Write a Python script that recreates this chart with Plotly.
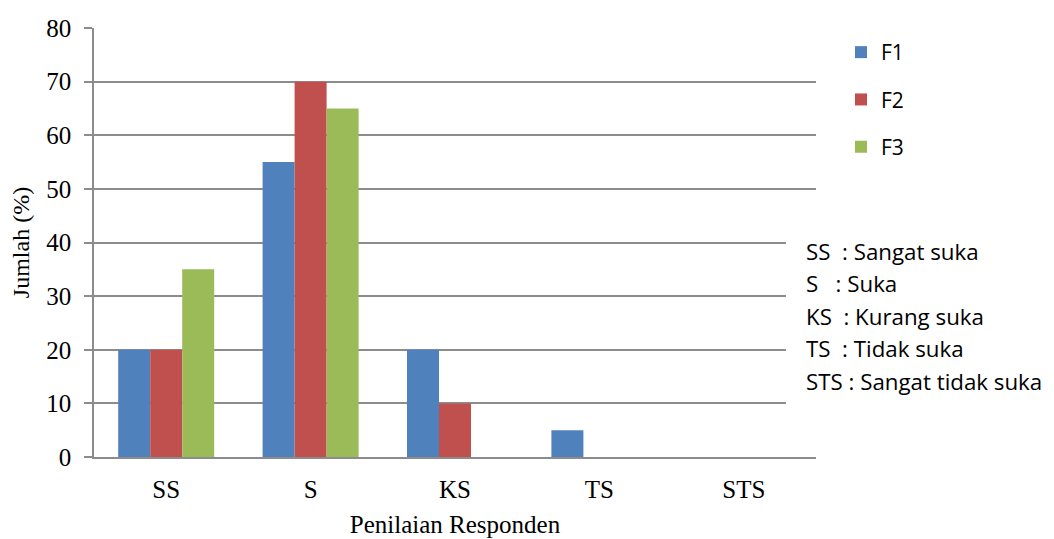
import plotly.graph_objects as go

# categories on the x axis and one value list per series (percent)
categories = ["SS", "S", "KS", "TS", "STS"]
series_names = ["F1", "F2", "F3"]
f1_values = [20, 55, 20, 5, 0]
f2_values = [20, 70, 10, 0, 0]
f3_values = [35, 65, 0, 0, 0]

key_lines = [
    "SS  : Sangat suka",
    "S   : Suka",
    "KS  : Kurang suka",
    "TS  : Tidak suka",
    "STS : Sangat tidak suka",
]

colors = ["#4F81BD", "#C0504D", "#9BBB59"]
serif = "Liberation Serif, Times New Roman, serif"
sans = "Open Sans, Liberation Sans, sans-serif"

# page body has an 8px margin, so the figure is a bit smaller than the window
OFF = 8
W, H = 1054 - OFF, 539 - OFF
# plot area in page pixels: x 94..816, y 28..457
PX0, PX1, PY0, PY1 = 94, 816, 28, 457
L, T = PX0 - OFF, PY0 - OFF
R, B = W - (PX1 - OFF), H - (PY1 - OFF)


def px_x(x):
    # page pixel -> paper x
    return (x - PX0) / (PX1 - PX0)


def px_y(y):
    # page pixel -> paper y
    return 1 - (y - PY0) / (PY1 - PY0)


fig = go.Figure()
for idx, (name, vals) in enumerate(zip(series_names, [f1_values, f2_values, f3_values])):
    fig.add_trace(go.Bar(
        x=categories,
        y=vals,
        name=name,
        marker=dict(color=colors[idx], line=dict(width=0)),
        legendgroup=name,
    ))

# white box behind the key text, covering the gridlines
fig.add_shape(
    type="rect", xref="paper", yref="paper",
    x0=px_x(786), x1=px_x(1060), y0=px_y(420), y1=px_y(225),
    fillcolor="white", line=dict(width=0), layer="above",
)

for i, line in enumerate(key_lines):
    fig.add_annotation(
        text=line.replace(" ", "\u00a0"),
        xref="paper", yref="paper",
        x=px_x(804), y=px_y(251 + i * 32.5),
        xanchor="left", yanchor="middle",
        showarrow=False,
        font=dict(family=sans, size=22.3, color="black"),
    )

fig.update_layout(
    width=W, height=H,
    margin=dict(l=L, r=R, t=T, b=B),
    paper_bgcolor="white",
    plot_bgcolor="white",
    barmode="group",
    bargap=0.335,
    bargroupgap=0,
    showlegend=True,
    legend=dict(
        x=px_x(841), y=px_y(32), xanchor="left", yanchor="top",
        font=dict(family=sans, size=21, color="black"),
        tracegroupgap=17,
        bgcolor="rgba(0,0,0,0)",
    ),
)

fig.update_yaxes(
    range=[0, 80],
    dtick=10,
    automargin=False,
    showgrid=True, gridcolor="#8C8C8C", gridwidth=1.5,
    showline=True, linecolor="#8C8C8C", linewidth=1.5,
    ticks="outside", ticklen=8, tickcolor="#8C8C8C", tickwidth=1.5,
    ticklabelstandoff=8,
    tickfont=dict(family=serif, size=25, color="black"),
    title=dict(text="Jumlah (%)", font=dict(family=serif, size=24, color="black"), standoff=10),
    zeroline=False,
)
fig.update_xaxes(
    automargin=False,
    showline=True, linecolor="#8C8C8C", linewidth=1.5,
    ticklabelstandoff=9,
    tickfont=dict(family=serif, size=25, color="black"),
    title=dict(text="Penilaian Responden", font=dict(family=serif, size=25, color="black"), standoff=14),
    ticks="",
)

fig.write_html("out.html")
